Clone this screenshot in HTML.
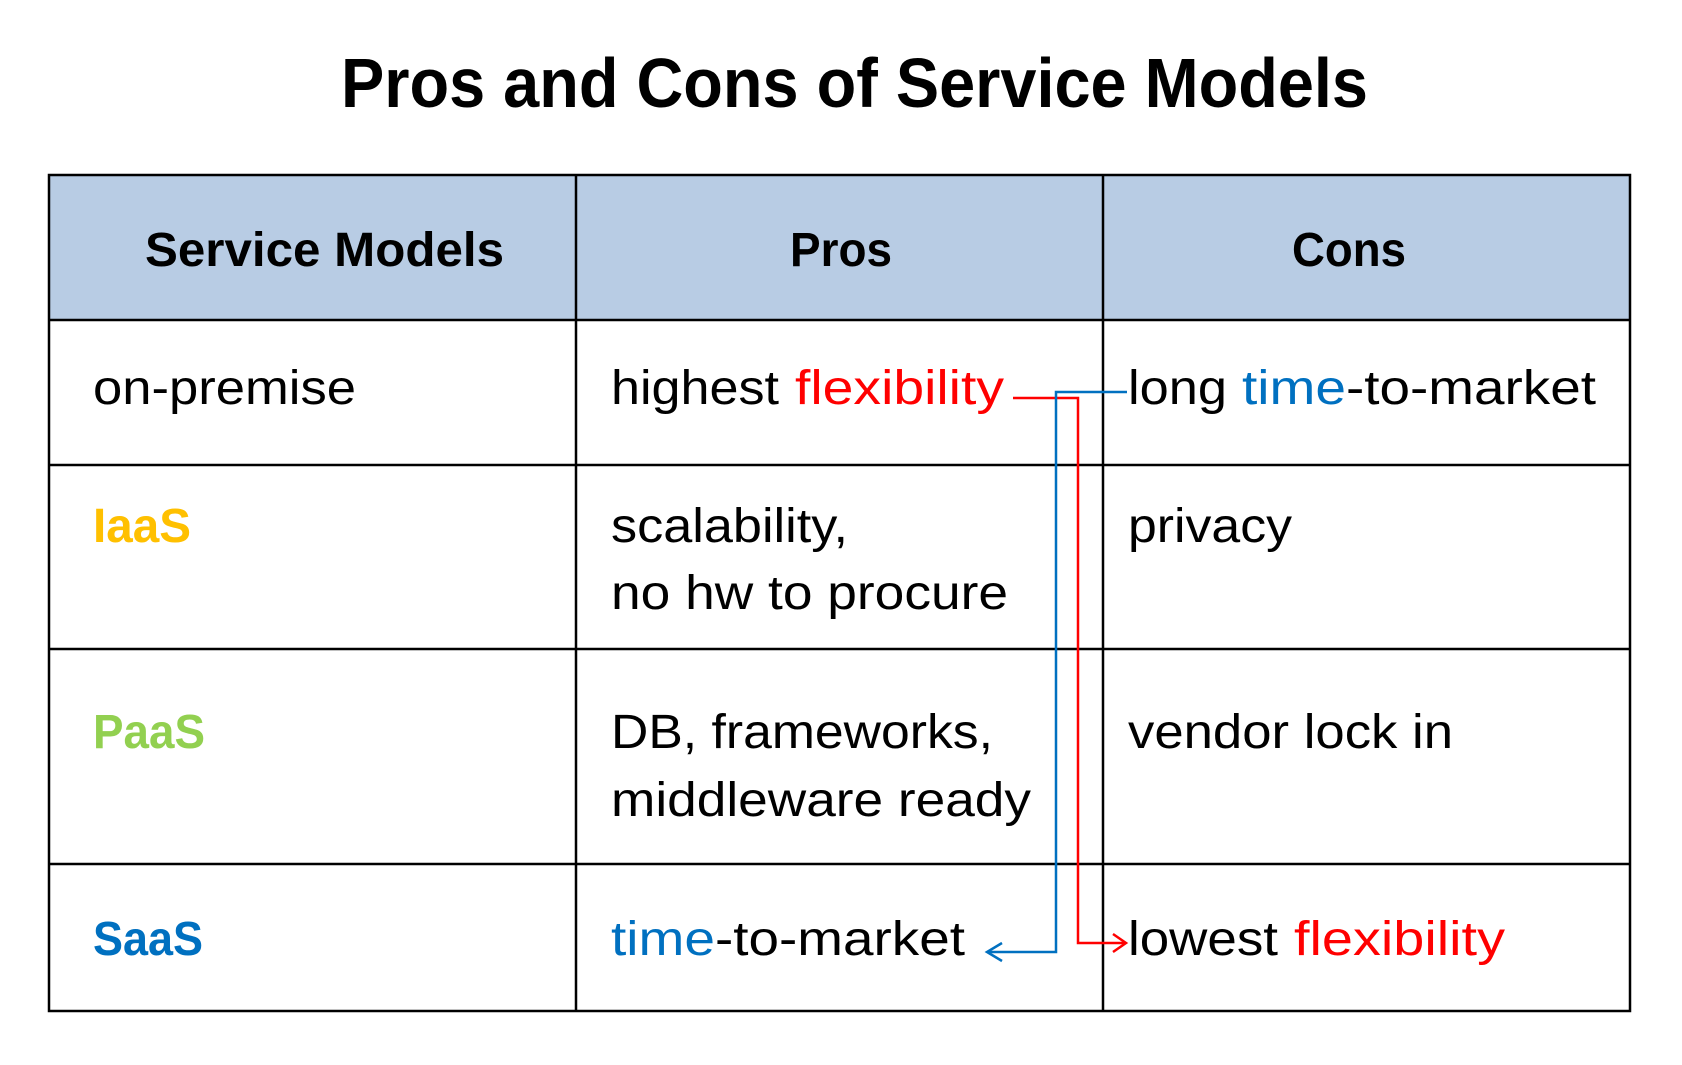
<!DOCTYPE html>
<html><head><meta charset="utf-8"><style>
html,body{margin:0;padding:0;background:#fff;}
svg{display:block;}
text{font-family:"Liberation Sans",sans-serif;}
</style></head><body>
<svg width="1682" height="1065" viewBox="0 0 1682 1065" xmlns="http://www.w3.org/2000/svg">
<text x="341" y="107" font-size="70" font-weight="bold" textLength="1027" lengthAdjust="spacingAndGlyphs">Pros and Cons of Service Models</text>
<rect x="49" y="175" width="1581" height="145" fill="#B8CCE4"/>
<g stroke="#000" stroke-width="2.5" fill="none">
<rect x="49" y="175" width="1581" height="836"/>
<line x1="49" y1="320" x2="1630" y2="320"/>
<line x1="49" y1="465" x2="1630" y2="465"/>
<line x1="49" y1="649" x2="1630" y2="649"/>
<line x1="49" y1="864" x2="1630" y2="864"/>
<line x1="576" y1="175" x2="576" y2="1011"/>
<line x1="1103" y1="175" x2="1103" y2="1011"/>
</g>
<g font-size="48" font-weight="bold" fill="#000">
<text x="145" y="266" textLength="359" lengthAdjust="spacingAndGlyphs">Service Models</text>
<text x="790" y="266" textLength="102" lengthAdjust="spacingAndGlyphs">Pros</text>
<text x="1292" y="266" textLength="114" lengthAdjust="spacingAndGlyphs">Cons</text>
</g>
<g font-size="48" fill="#000">
<text x="93" y="404" textLength="263" lengthAdjust="spacingAndGlyphs">on-premise</text>
<text x="611" y="404" textLength="168" lengthAdjust="spacingAndGlyphs">highest</text>
<text x="795" y="404" textLength="209" lengthAdjust="spacingAndGlyphs" fill="#FF0000">flexibility</text>
<text x="1128" y="404" textLength="99" lengthAdjust="spacingAndGlyphs">long</text>
<text x="1242" y="404" textLength="104" lengthAdjust="spacingAndGlyphs" fill="#0070C0">time</text>
<text x="1346" y="404" textLength="250" lengthAdjust="spacingAndGlyphs">-to-market</text>

<text x="93" y="542" textLength="98" lengthAdjust="spacingAndGlyphs" fill="#FFC000" font-weight="bold">IaaS</text>
<text x="611" y="542" textLength="237" lengthAdjust="spacingAndGlyphs">scalability,</text>
<text x="611" y="609" textLength="397" lengthAdjust="spacingAndGlyphs">no hw to procure</text>
<text x="1128" y="542" textLength="164" lengthAdjust="spacingAndGlyphs">privacy</text>

<text x="93" y="748" textLength="112" lengthAdjust="spacingAndGlyphs" fill="#92D050" font-weight="bold">PaaS</text>
<text x="611" y="748" textLength="382" lengthAdjust="spacingAndGlyphs">DB, frameworks,</text>
<text x="611" y="816" textLength="420" lengthAdjust="spacingAndGlyphs">middleware ready</text>
<text x="1128" y="748" textLength="325" lengthAdjust="spacingAndGlyphs">vendor lock in</text>

<text x="93" y="955" textLength="110" lengthAdjust="spacingAndGlyphs" fill="#0070C0" font-weight="bold">SaaS</text>
<text x="611" y="955" textLength="104" lengthAdjust="spacingAndGlyphs" fill="#0070C0">time</text>
<text x="715" y="955" textLength="250" lengthAdjust="spacingAndGlyphs">-to-market</text>
<text x="1128" y="955" textLength="150" lengthAdjust="spacingAndGlyphs">lowest</text>
<text x="1294" y="955" textLength="211" lengthAdjust="spacingAndGlyphs" fill="#FF0000">flexibility</text>
</g>
<g fill="none" stroke-width="2.5">
<polyline points="1013,398 1078,398 1078,943 1125,943" stroke="#FF0000"/>
<polyline points="1113,934 1126,943 1113,952" stroke="#FF0000"/>
<polyline points="1127,392 1056,392 1056,952 987,952" stroke="#0070C0"/>
<polyline points="1002,943 987,952 1002,961" stroke="#0070C0"/>
</g>
</svg>
</body></html>
